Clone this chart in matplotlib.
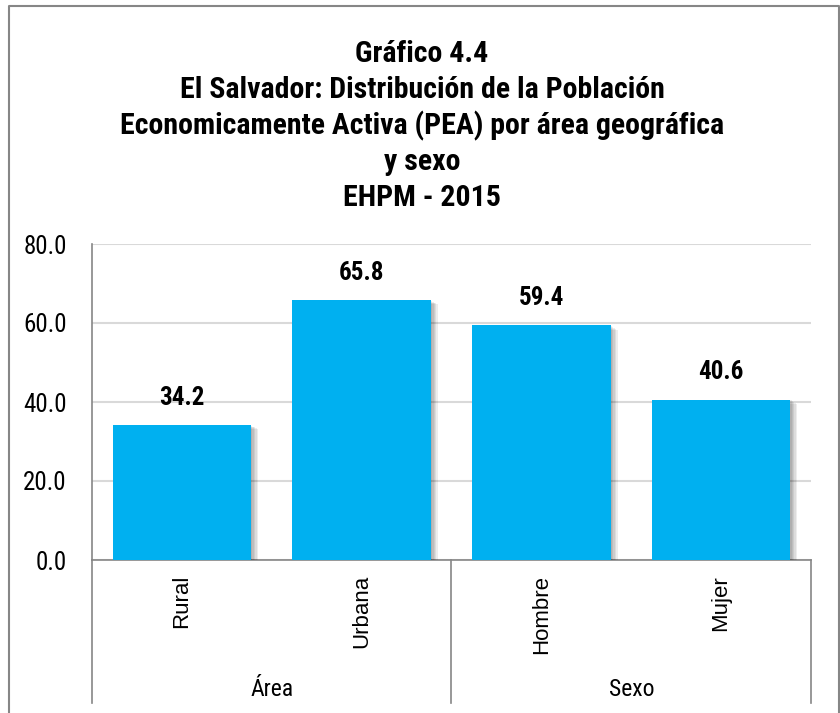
import matplotlib.pyplot as plt
import matplotlib.patheffects as pe
from matplotlib.lines import Line2D

# datos
categorias = ["Rural", "Urbana", "Hombre", "Mujer"]
valores = [34.2, 65.8, 59.4, 40.6]
grupos = ["Área", "Sexo"]
grupo_tam = [2, 2]
titulo = ["Gráfico 4.4",
          "El Salvador: Distribución de la Población",
          "Economicamente Activa (PEA) por área geográfica",
          "y sexo",
          "EHPM - 2015"]

NARROW = ["Roboto Condensed", "DejaVu Sans"]
REG = ["Liberation Sans", "DejaVu Sans"]
GRIS = "#868686"

fig = plt.figure(figsize=(8.4, 7.13), dpi=100)
ax = fig.add_axes([92 / 840, 1 - 560 / 713, (811 - 92) / 840, (560 - 244) / 713])

x = range(len(categorias))
# sombra difusa a la derecha de las barras
sombra = [pe.SimplePatchShadow(offset=(d, -d * 0.6), shadow_rgbFace="k", alpha=0.07)
          for d in (1, 2, 3, 4, 5)]
ax.bar(x, valores, width=0.77, color="#00B0F0", zorder=3,
       path_effects=sombra + [pe.Normal()])

for xi, v in zip(x, valores):
    ax.annotate(f"{v:.1f}", (xi, v), xytext=(0, 11), textcoords="offset points",
                ha="center", va="bottom", fontsize=18, fontweight="bold",
                family=NARROW, zorder=4)

ax.set_xlim(-0.5, len(categorias) - 0.5)
ax.set_ylim(0, 80)
ax.set_yticks(range(0, 81, 20))
ax.set_yticklabels([f"{t:.1f}" for t in range(0, 81, 20)], fontsize=18, family=NARROW)
ax.tick_params(axis="y", length=0, pad=18)
ax.set_xticks([])
ax.grid(axis="y", color="#D9D9D9", linewidth=1.5, zorder=0)
for s in ["top", "right"]:
    ax.spines[s].set_visible(False)
for s in ["left", "bottom"]:
    ax.spines[s].set_color(GRIS)
    ax.spines[s].set_linewidth(1.2)

# etiquetas de categoria y grupos
tr = ax.get_xaxis_transform()
for xi, c in zip(x, categorias):
    ax.text(xi, -(575 - 560) / 316, c, rotation=90, ha="center", va="top", fontsize=16,
            family=REG, transform=tr)

lim_inf = -(703 - 560) / 316
bordes = [-0.5]
for n in grupo_tam:
    bordes.append(bordes[-1] + n)
for b in bordes:
    ax.add_line(Line2D([b, b], [0, lim_inf], transform=tr, color=GRIS,
                       linewidth=1.2, clip_on=False))
for g, a, b in zip(grupos, bordes[:-1], bordes[1:]):
    ax.text((a + b) / 2, -(689 - 560) / 316, g, ha="center", va="center",
            fontsize=17, family=NARROW, transform=tr)

# titulo
for i, linea in enumerate(titulo):
    fig.text(422 / 840, 1 - (54 + i * 36) / 713, linea, ha="center", va="center",
             fontsize=21.5, fontweight="bold", family=NARROW)

# borde exterior
fig.add_artist(Line2D([8.5 / 840, 8.5 / 840, 838.5 / 840, 838.5 / 840],
                      [0, 1 - 6 / 713, 1 - 6 / 713, 0], color=GRIS, linewidth=1.5))

fig.savefig("out.png", dpi=100)
